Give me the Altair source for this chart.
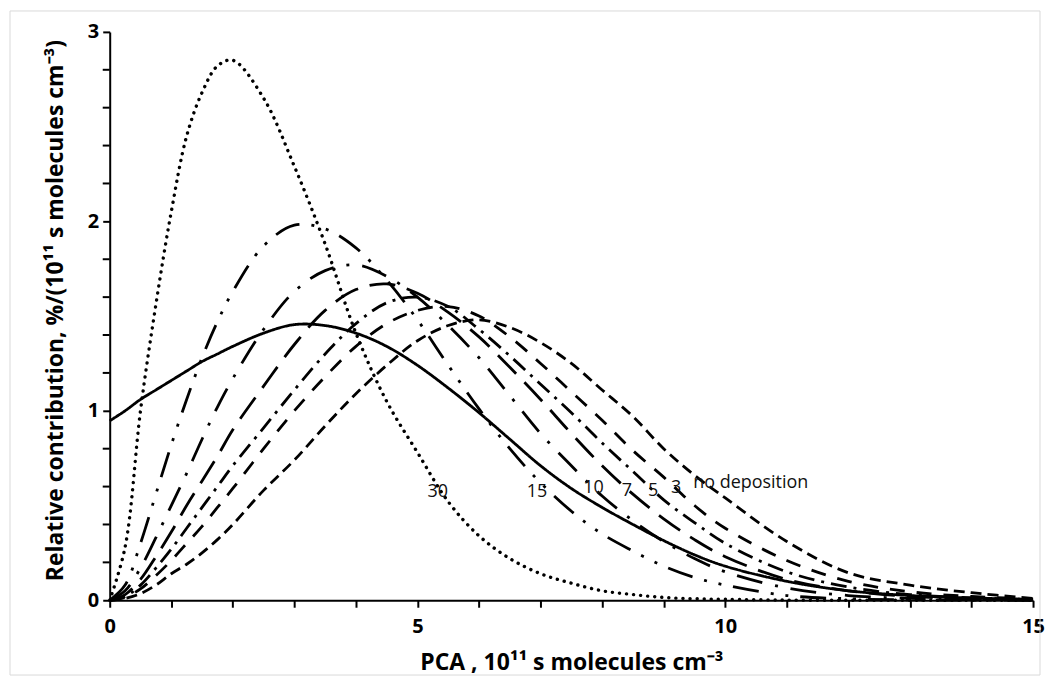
import altair as alt
import pandas as pd

# ---- data ----
x_grid = [0, 0.25, 0.5, 0.75, 1, 1.25, 1.5, 1.75, 2, 2.5, 3, 3.5, 4, 4.5, 5,
          5.5, 6, 6.5, 7, 7.5, 8, 8.5, 9, 9.5, 10, 11, 12, 13, 14, 15]

no_dep = [0, 0.01, 0.035, 0.08, 0.14, 0.19, 0.25, 0.32, 0.40, 0.58, 0.74, 0.92, 1.09, 1.24, 1.37,
          1.45, 1.48, 1.44, 1.36, 1.25, 1.11, 0.97, 0.80, 0.66, 0.54, 0.31, 0.145, 0.08, 0.04, 0.01]
dep3 = [0, 0.015, 0.06, 0.13, 0.21, 0.30, 0.39, 0.49, 0.59, 0.80, 1.0, 1.18, 1.34, 1.46, 1.53,
        1.55, 1.50, 1.39, 1.25, 1.10, 0.95, 0.79, 0.65, 0.50, 0.38, 0.21, 0.10, 0.045, 0.02, 0.007]
dep5 = [0, 0.02, 0.08, 0.17, 0.27, 0.38, 0.49, 0.60, 0.71, 0.91, 1.11, 1.30, 1.46, 1.57, 1.60,
        1.55, 1.43, 1.29, 1.14, 0.99, 0.83, 0.68, 0.53, 0.41, 0.30, 0.15, 0.07, 0.03, 0.013, 0.005]
dep7 = [0, 0.03, 0.11, 0.23, 0.36, 0.50, 0.63, 0.76, 0.90, 1.13, 1.35, 1.53, 1.64, 1.67, 1.62,
        1.52, 1.39, 1.23, 1.06, 0.88, 0.71, 0.56, 0.43, 0.32, 0.23, 0.11, 0.05, 0.02, 0.008, 0.003]
dep10 = [0, 0.05, 0.17, 0.33, 0.50, 0.67, 0.85, 1.02, 1.17, 1.43, 1.63, 1.74, 1.77, 1.71, 1.60,
         1.45, 1.28, 1.08, 0.88, 0.71, 0.55, 0.42, 0.31, 0.22, 0.15, 0.065, 0.025, 0.01, 0.003, 0.001]
dep15 = [0, 0.08, 0.30, 0.56, 0.82, 1.06, 1.28, 1.47, 1.63, 1.87, 1.98, 1.96, 1.86, 1.69, 1.48,
         1.24, 1.01, 0.80, 0.62, 0.47, 0.35, 0.26, 0.18, 0.12, 0.08, 0.025, 0.008, 0.002, 0.001, 0]
dep30 = [0, 0.28, 1.0, 1.56, 2.05, 2.45, 2.68, 2.82, 2.85, 2.65, 2.29, 1.88, 1.41, 1.05, 0.78,
         0.52, 0.34, 0.22, 0.14, 0.09, 0.05, 0.03, 0.015, 0.008, 0.005, 0.001, 0, 0, 0, 0]
solid = [0.947, 1.0, 1.06, 1.11, 1.16, 1.21, 1.26, 1.30, 1.34, 1.41, 1.455, 1.45, 1.41, 1.34, 1.24,
         1.12, 0.99, 0.85, 0.71, 0.59, 0.49, 0.40, 0.315, 0.24, 0.18, 0.10, 0.05, 0.025, 0.012, 0.005]

dash_series = ["no deposition", "3", "5", "7", "10", "15", "solid"]
dash_values = [no_dep, dep3, dep5, dep7, dep10, dep15, solid]
dash_styles = [[11, 6], [15, 12], [16, 7, 3, 7], [26, 12], [26, 13, 3, 13],
               [26, 12, 3, 12, 3, 12], [1, 0]]

label_text = ["30", "15", "10", "7", "5", "3"]
label_x = [5.33, 6.94, 7.86, 8.40, 8.83, 9.20]
label_y = [0.57, 0.57, 0.59, 0.575, 0.575, 0.59]
nodep_text = ["no deposition"]
nodep_x = [9.48]
nodep_y = [0.62]

x_tick_values = list(range(0, 16))
y_major_values = [0, 1, 2, 3]
y_minor_values = [0.2, 0.4, 0.6, 0.8, 1.2, 1.4, 1.6, 1.8, 2.2, 2.4, 2.6, 2.8]

# ---- tables ----
rows = []
for name, vals in zip(dash_series, dash_values):
    for xv, yv in zip(x_grid, vals):
        rows.append({"series": name, "x": xv, "y": yv})
df_dash = pd.DataFrame(rows)
df_dot = pd.DataFrame({"series": "30", "x": x_grid, "y": dep30})
df_lab = pd.DataFrame({"text": label_text, "x": label_x, "y": label_y})
df_nodep = pd.DataFrame({"text": nodep_text, "x": nodep_x, "y": nodep_y})
df_minor = pd.DataFrame({"v": y_minor_values})

FONT = "Open Sans"
INTERP = "catmull-rom"

xscale = alt.Scale(domain=[0, 15], nice=False)
yscale = alt.Scale(domain=[0, 3], nice=False)

xaxis = alt.Axis(values=x_tick_values,
                 labelExpr="datum.value % 5 == 0 ? format(datum.value, 'd') : ''",
                 labelOverlap=False, labelFlush=False,
                 title="PCA , 10¹¹ s molecules cm⁻³",
                 grid=False, domainColor="black", domainWidth=2,
                 tickColor="black", tickWidth=2, tickSize=7,
                 labelFont=FONT, labelFontSize=20, labelFontWeight="bold",
                 labelColor="black", labelPadding=9,
                 titleFont=FONT, titleFontSize=23, titleFontWeight="bold",
                 titleColor="black", titleY=62, titleBaseline="middle")
yaxis = alt.Axis(values=y_major_values, format="d",
                 labelOverlap=False, labelFlush=False,
                 title="Relative contribution, %/(10¹¹ s molecules cm⁻³)",
                 grid=False, domainColor="black", domainWidth=2,
                 tickColor="black", tickWidth=2, tickSize=7,
                 labelFont=FONT, labelFontSize=20, labelFontWeight="bold",
                 labelColor="black", labelPadding=4,
                 titleFont=FONT, titleFontSize=23, titleFontWeight="bold",
                 titleColor="black", titleX=-54, titleY=279,
                 titleAlign="center", titleBaseline="middle")

base_x = alt.X("x:Q", scale=xscale, axis=xaxis)
base_y = alt.Y("y:Q", scale=yscale, axis=yaxis)

frame = alt.Chart(df_lab).mark_rect(fillOpacity=0, stroke="#d9d9d9", strokeWidth=1).encode(
    x=alt.value(-100), x2=alt.value(933), y=alt.value(-21), y2=alt.value(645)
).transform_filter("datum.text == '30'")

minor_ticks = alt.Chart(df_minor).mark_rule(color="black", strokeWidth=2).encode(
    x=alt.value(-7), x2=alt.value(0), y=alt.Y("v:Q", scale=yscale)
)

dashed = alt.Chart(df_dash).mark_line(color="black", strokeWidth=2.8,
                                      interpolate=INTERP, strokeCap="butt").encode(
    x=base_x, y=base_y,
    strokeDash=alt.StrokeDash("series:N",
                              scale=alt.Scale(domain=dash_series, range=dash_styles),
                              legend=None),
    detail="series:N",
)

dotted = alt.Chart(df_dot).mark_line(color="black", strokeWidth=3.4, interpolate=INTERP,
                                     strokeCap="round", strokeDash=[0.1, 7]).encode(
    x=alt.X("x:Q", scale=xscale), y=alt.Y("y:Q", scale=yscale)
)

labels = alt.Chart(df_lab).mark_text(font=FONT, fontSize=18, color="#111111",
                                     align="center", baseline="middle").encode(
    x=alt.X("x:Q", scale=xscale), y=alt.Y("y:Q", scale=yscale), text="text:N"
)
nodep_label = alt.Chart(df_nodep).mark_text(font=FONT, fontSize=18, color="#111111",
                                            align="left", baseline="middle").encode(
    x=alt.X("x:Q", scale=xscale), y=alt.Y("y:Q", scale=yscale), text="text:N"
)

chart = alt.layer(frame, dashed, dotted, minor_ticks, labels, nodep_label).properties(
    width=926, height=570,
    padding={"left": 102, "top": 23, "right": 12, "bottom": 76},
    autosize=alt.AutoSizeParams(type="none"),
    background="white",
).configure_view(stroke=None)

chart.save("out.html", embed_options={"renderer": "svg", "actions": False})
